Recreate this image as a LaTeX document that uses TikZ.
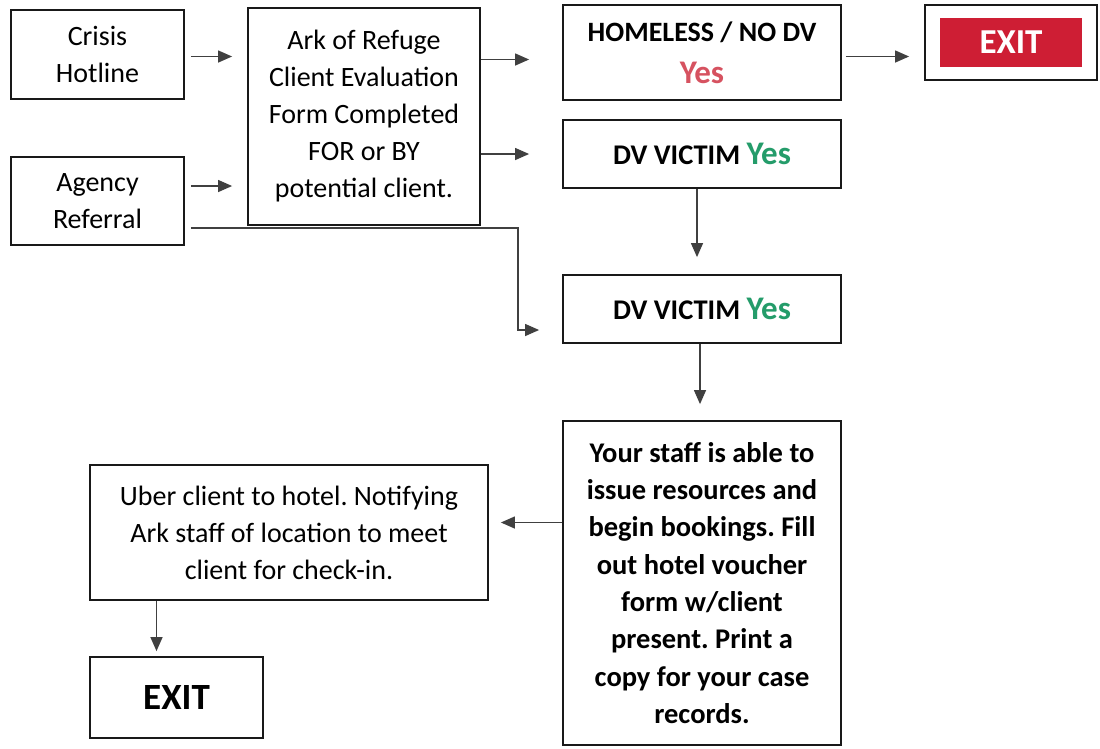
\documentclass[tikz,border=0pt]{standalone}
\usepackage{fontspec}
\setmainfont{Carlito}
\usepackage{tikz}
\usetikzlibrary{positioning,arrows.meta}
\usepackage{xcolor}
\definecolor{exitred}{RGB}{206,30,52}
\definecolor{yesred}{RGB}{214,82,96}
\definecolor{yesgreen}{RGB}{36,156,106}
\tikzset{
  box/.style={draw=black!90, line width=1.8pt, align=center, inner sep=0pt, font=\fontsize{28}{37}\selectfont},
  boldbox/.style={box, font=\fontsize{28.5}{37.3}\selectfont\bfseries},
  flow/.style={draw=black!75, line width=1.3pt, -{Triangle[length=14pt,width=12pt]}},
}
\newcommand{\yes}[1]{{\fontsize{33}{37}\selectfont\textcolor{#1}{Yes}}}
\frenchspacing

\begin{document}
\begin{tikzpicture}[x=1pt, y=-1pt]
  \useasboundingbox (0,0) rectangle (1100,748);
  % left column
  \node [box, minimum width=173pt, minimum height=89pt] (crisis) at (97.5, 54.5) {Crisis\\Hotline};
  \node [box, minimum width=173pt, minimum height=88pt] (agency) at (97.5, 201) {Agency\\Referral};
  \node [box, minimum width=232pt, minimum height=217pt] (form) at (364, 116.5) {Ark of Refuge\\Client Evaluation\\Form Completed\\FOR or BY\\potential client.};
  % right column
  \node [boldbox, minimum width=278pt, minimum height=95pt, font=\fontsize{28}{42}\selectfont\bfseries] (homeless) at (702, 52.5) {HOMELESS / NO DV\\\yes{yesred}};
  \node [box, minimum width=172pt, minimum height=75pt] (exitred) at (1011, 42.5) {};
  \node [fill=exitred, minimum width=142pt, minimum height=49pt, inner sep=0pt, text=white, font=\fontsize{35}{40}\selectfont\bfseries] (exitlabel) at (exitred) {EXIT};
  \node [boldbox, minimum width=278pt, minimum height=68pt] (victima) at (702, 154) {DV VICTIM \yes{yesgreen}};
  \node [boldbox, minimum width=278pt, minimum height=68pt] (victimb) at (702, 309) {DV VICTIM \yes{yesgreen}};
  \node [boldbox, minimum width=278pt, minimum height=324pt] (staff) at (702, 583) {Your staff is able to\\issue resources and\\begin bookings. Fill\\out hotel voucher\\form w/client\\present. Print a\\copy for your case\\records.};
  % bottom left
  \node [box, minimum width=398pt, minimum height=135pt] (uber) at (289, 532.5) {Uber client to hotel. Notifying\\Ark staff of location to meet\\client for check-in.};
  \node [boldbox, minimum width=173pt, minimum height=81pt, font=\fontsize{37}{40}\selectfont\bfseries] (exitend) at (176.5, 697.5) {EXIT};

  % connectors
  \draw [flow, shorten <=6pt, shorten >=15pt] ([yshift=-2pt]crisis.east) -- ([yshift=-2pt]crisis.east -| form.west);
  \draw [flow, shorten <=6pt, shorten >=15pt] ([yshift=15pt]agency.east) -- ([yshift=15pt]agency.east -| form.west);
  \draw [flow, shorten >=33pt] ([yshift=-7pt]form.east |- homeless.west) -- ([yshift=-7pt]homeless.west);
  \draw [flow, shorten >=33pt] (form.east |- victima.west) -- (victima.west);
  \draw [flow, shorten <=4pt, shorten >=15pt] ([yshift=-4pt]homeless.east) -- ([yshift=-4pt]homeless.east -| exitred.west);
  \draw [flow, shorten >=17pt] ([xshift=-5pt]victima.south) -- ([xshift=-5pt]victima.south |- victimb.north);
  \draw [flow, shorten >=16pt] ([xshift=-2pt]victimb.south) -- ([xshift=-2pt]victimb.south |- staff.north);
  \draw [flow, shorten >=23pt] ([yshift=-27pt]agency.east) ++(6,0) -- ++(327,0) |- ([yshift=-21pt]victimb.west);
  \draw [flow, shorten >=12pt] ([yshift=10pt]uber.east -| staff.west) -- ([yshift=10pt]uber.east);
  \draw [flow, shorten >=5pt] ([xshift=-20pt]exitend.north |- uber.south) -- ([xshift=-20pt]exitend.north);
\end{tikzpicture}
\end{document}
